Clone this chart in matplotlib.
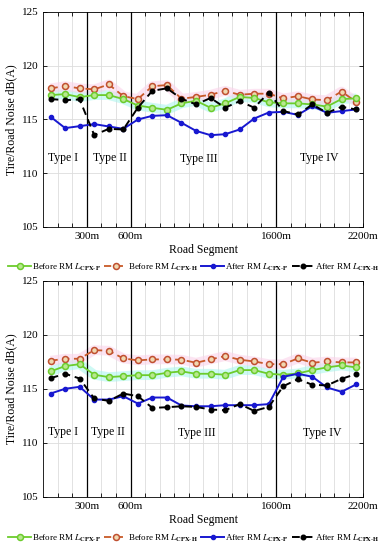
import numpy as np
import matplotlib
matplotlib.use("Agg")
import matplotlib.pyplot as plt

plt.rcParams['font.family'] = ['Liberation Serif', 'DejaVu Serif']
plt.rcParams['mathtext.fontset'] = 'stix'

segments_m = [50 + 100 * i for i in range(22)]

top_before_p = [117.27, 117.36, 117.08, 117.27, 117.27, 116.9, 116.3, 116.09, 115.9, 116.5, 116.74,
                116.09, 116.5, 117.1, 117.0, 116.6, 116.5, 116.5, 116.4, 116.2, 116.9, 116.96]
top_before_h = [117.9, 118.1, 117.9, 117.8, 118.26, 117.17, 116.9, 118.1, 118.2, 116.93, 117.1,
                117.3, 117.67, 117.3, 117.4, 117.4, 116.96, 117.17, 116.86, 116.8, 117.6, 116.65]
top_after_p = [115.25, 114.2, 114.38, 114.57, 114.35, 114.13, 115.0, 115.34, 115.4, 114.69, 113.94,
               113.54, 113.63, 114.07, 115.09, 115.65, 115.71, 115.43, 116.24, 115.62, 115.78, 115.93]
top_after_h = [116.9, 116.8, 116.86, 113.55, 114.13, 114.07, 116.1, 117.67, 117.9, 116.93, 116.4,
               117.0, 116.1, 116.7, 116.1, 117.5, 115.78, 115.47, 116.4, 115.62, 116.18, 115.93]

bot_before_p = [116.63, 117.12, 117.3, 116.32, 116.1, 116.19, 116.28, 116.28, 116.5, 116.63, 116.41,
                116.41, 116.32, 116.75, 116.75, 116.41, 116.32, 116.44, 116.75, 117.0, 117.18, 117.0]
bot_before_h = [117.62, 117.8, 117.8, 118.6, 118.54, 117.83, 117.65, 117.74, 117.74, 117.71, 117.43,
                117.74, 118.05, 117.71, 117.55, 117.3, 117.3, 117.83, 117.43, 117.55, 117.46, 117.46]
bot_after_p = [114.58, 115.02, 115.2, 114.02, 114.02, 114.33, 113.65, 114.21, 114.21, 113.47, 113.4,
               113.4, 113.5, 113.5, 113.5, 113.6, 116.13, 116.41, 116.13, 115.14, 114.74, 115.42]
bot_after_h = [116.0, 116.41, 115.97, 114.12, 113.9, 114.58, 114.33, 113.25, 113.31, 113.4, 113.34,
               113.1, 113.03, 113.6, 112.97, 113.34, 115.26, 115.91, 115.39, 115.33, 115.94, 116.38]

boundaries_m = [300, 600, 1600]
xtick_vals = [300, 600, 1600, 2200]
xtick_labels = ['300m', '600m', '1600m', '2200m']
ytick_vals = [105, 110, 115, 120, 125]
type_labels = ['Type I', 'Type II', 'Type III', 'Type IV']
top_type_x = [135, 460, 1070, 1895]
top_type_y = [111.4, 111.4, 111.3, 111.4]
bot_type_x = [135, 445, 1055, 1920]
bot_type_y = [111.0, 111.0, 110.9, 110.9]

labels = [r'Before RM $L_{\mathbf{CPX\text{-}P}}$', r'Before RM $L_{\mathbf{CPX\text{-}H}}$',
          r'After RM $L_{\mathbf{CPX\text{-}P}}$', r'After RM $L_{\mathbf{CPX\text{-}H}}$']

fig = plt.figure(figsize=(3.88, 5.50), dpi=100)
ax1 = fig.add_axes([0.1116, 0.5873, 0.8248, 0.3909])
ax2 = fig.add_axes([0.1116, 0.0964, 0.8248, 0.3927])

def draw(ax, bp, bh, ap, ah, tx, ty, legend_y):
    ax.set_xlim(0, 2200)
    ax.set_ylim(105, 125)
    ax.plot(segments_m, bp, color='#aef5ee', lw=7, alpha=0.6, solid_capstyle='butt', zorder=1)
    ax.plot(segments_m, bh, color='#fbd3ea', lw=7, alpha=0.6, solid_capstyle='butt', zorder=1)
    l1, = ax.plot(segments_m, bp, color='#6ccc2c', lw=1.3, marker='o', ms=4.3,
                  mfc='#b8e890', mec='#6ccc2c', mew=1.1, zorder=4)
    l2, = ax.plot(segments_m, bh, color='#c85a28', lw=1.3, ls=(0, (4, 2.5)), marker='o', ms=4.3,
                  mfc='#f0d8b0', mec='#c05030', mew=1.1, zorder=3)
    l3, = ax.plot(segments_m, ap, color='#1818d0', lw=1.4, marker='o', ms=3, mfc='#1818d0',
                  mec='#1818d0', zorder=5)
    l4, = ax.plot(segments_m, ah, color='black', lw=1.4, ls=(0, (4, 2.5)), marker='o', ms=3.3,
                  mfc='black', mec='black', zorder=5)
    for b in boundaries_m:
        ax.axvline(b, color='black', lw=0.9, zorder=2)
    for s, x, y in zip(type_labels, tx, ty):
        ax.text(x, y, s, ha='center', va='center', fontsize=8.5)
    ax.set_xticks(xtick_vals)
    ax.set_xticklabels(xtick_labels)
    ax.set_xticks(np.arange(100, 2200, 100), minor=True)
    ax.set_yticks(ytick_vals)
    ax.grid(True, which='both', axis='x', color='#dddddd', lw=0.6)
    ax.grid(True, which='major', axis='y', color='#dddddd', lw=0.6)
    ax.set_axisbelow(True)
    ax.tick_params(direction='in', top=True, right=True, labelsize=8, length=3, width=0.6)
    ax.tick_params(which='minor', direction='in', top=True, bottom=True, length=3, width=0.6)
    for sp in ax.spines.values():
        sp.set_linewidth(0.6)
    ax.set_ylabel('Tire/Road Noise dB(A)', fontsize=8.5, labelpad=3)
    ax.set_xlabel('Road Segment', fontsize=8.5, labelpad=2)
    fig.legend([l1, l2, l3, l4], labels, loc='center', bbox_to_anchor=(0.5, legend_y),
               ncol=4, frameon=False, fontsize=6.5, handlelength=2.5, handletextpad=0.1,
               columnspacing=0.4, borderpad=0)

draw(ax1, top_before_p, top_before_h, top_after_p, top_after_h, top_type_x, top_type_y, 1 - 267 / 550)
draw(ax2, bot_before_p, bot_before_h, bot_after_p, bot_after_h, bot_type_x, bot_type_y, 1 - 538 / 550)

fig.savefig('out.png', dpi=100)
